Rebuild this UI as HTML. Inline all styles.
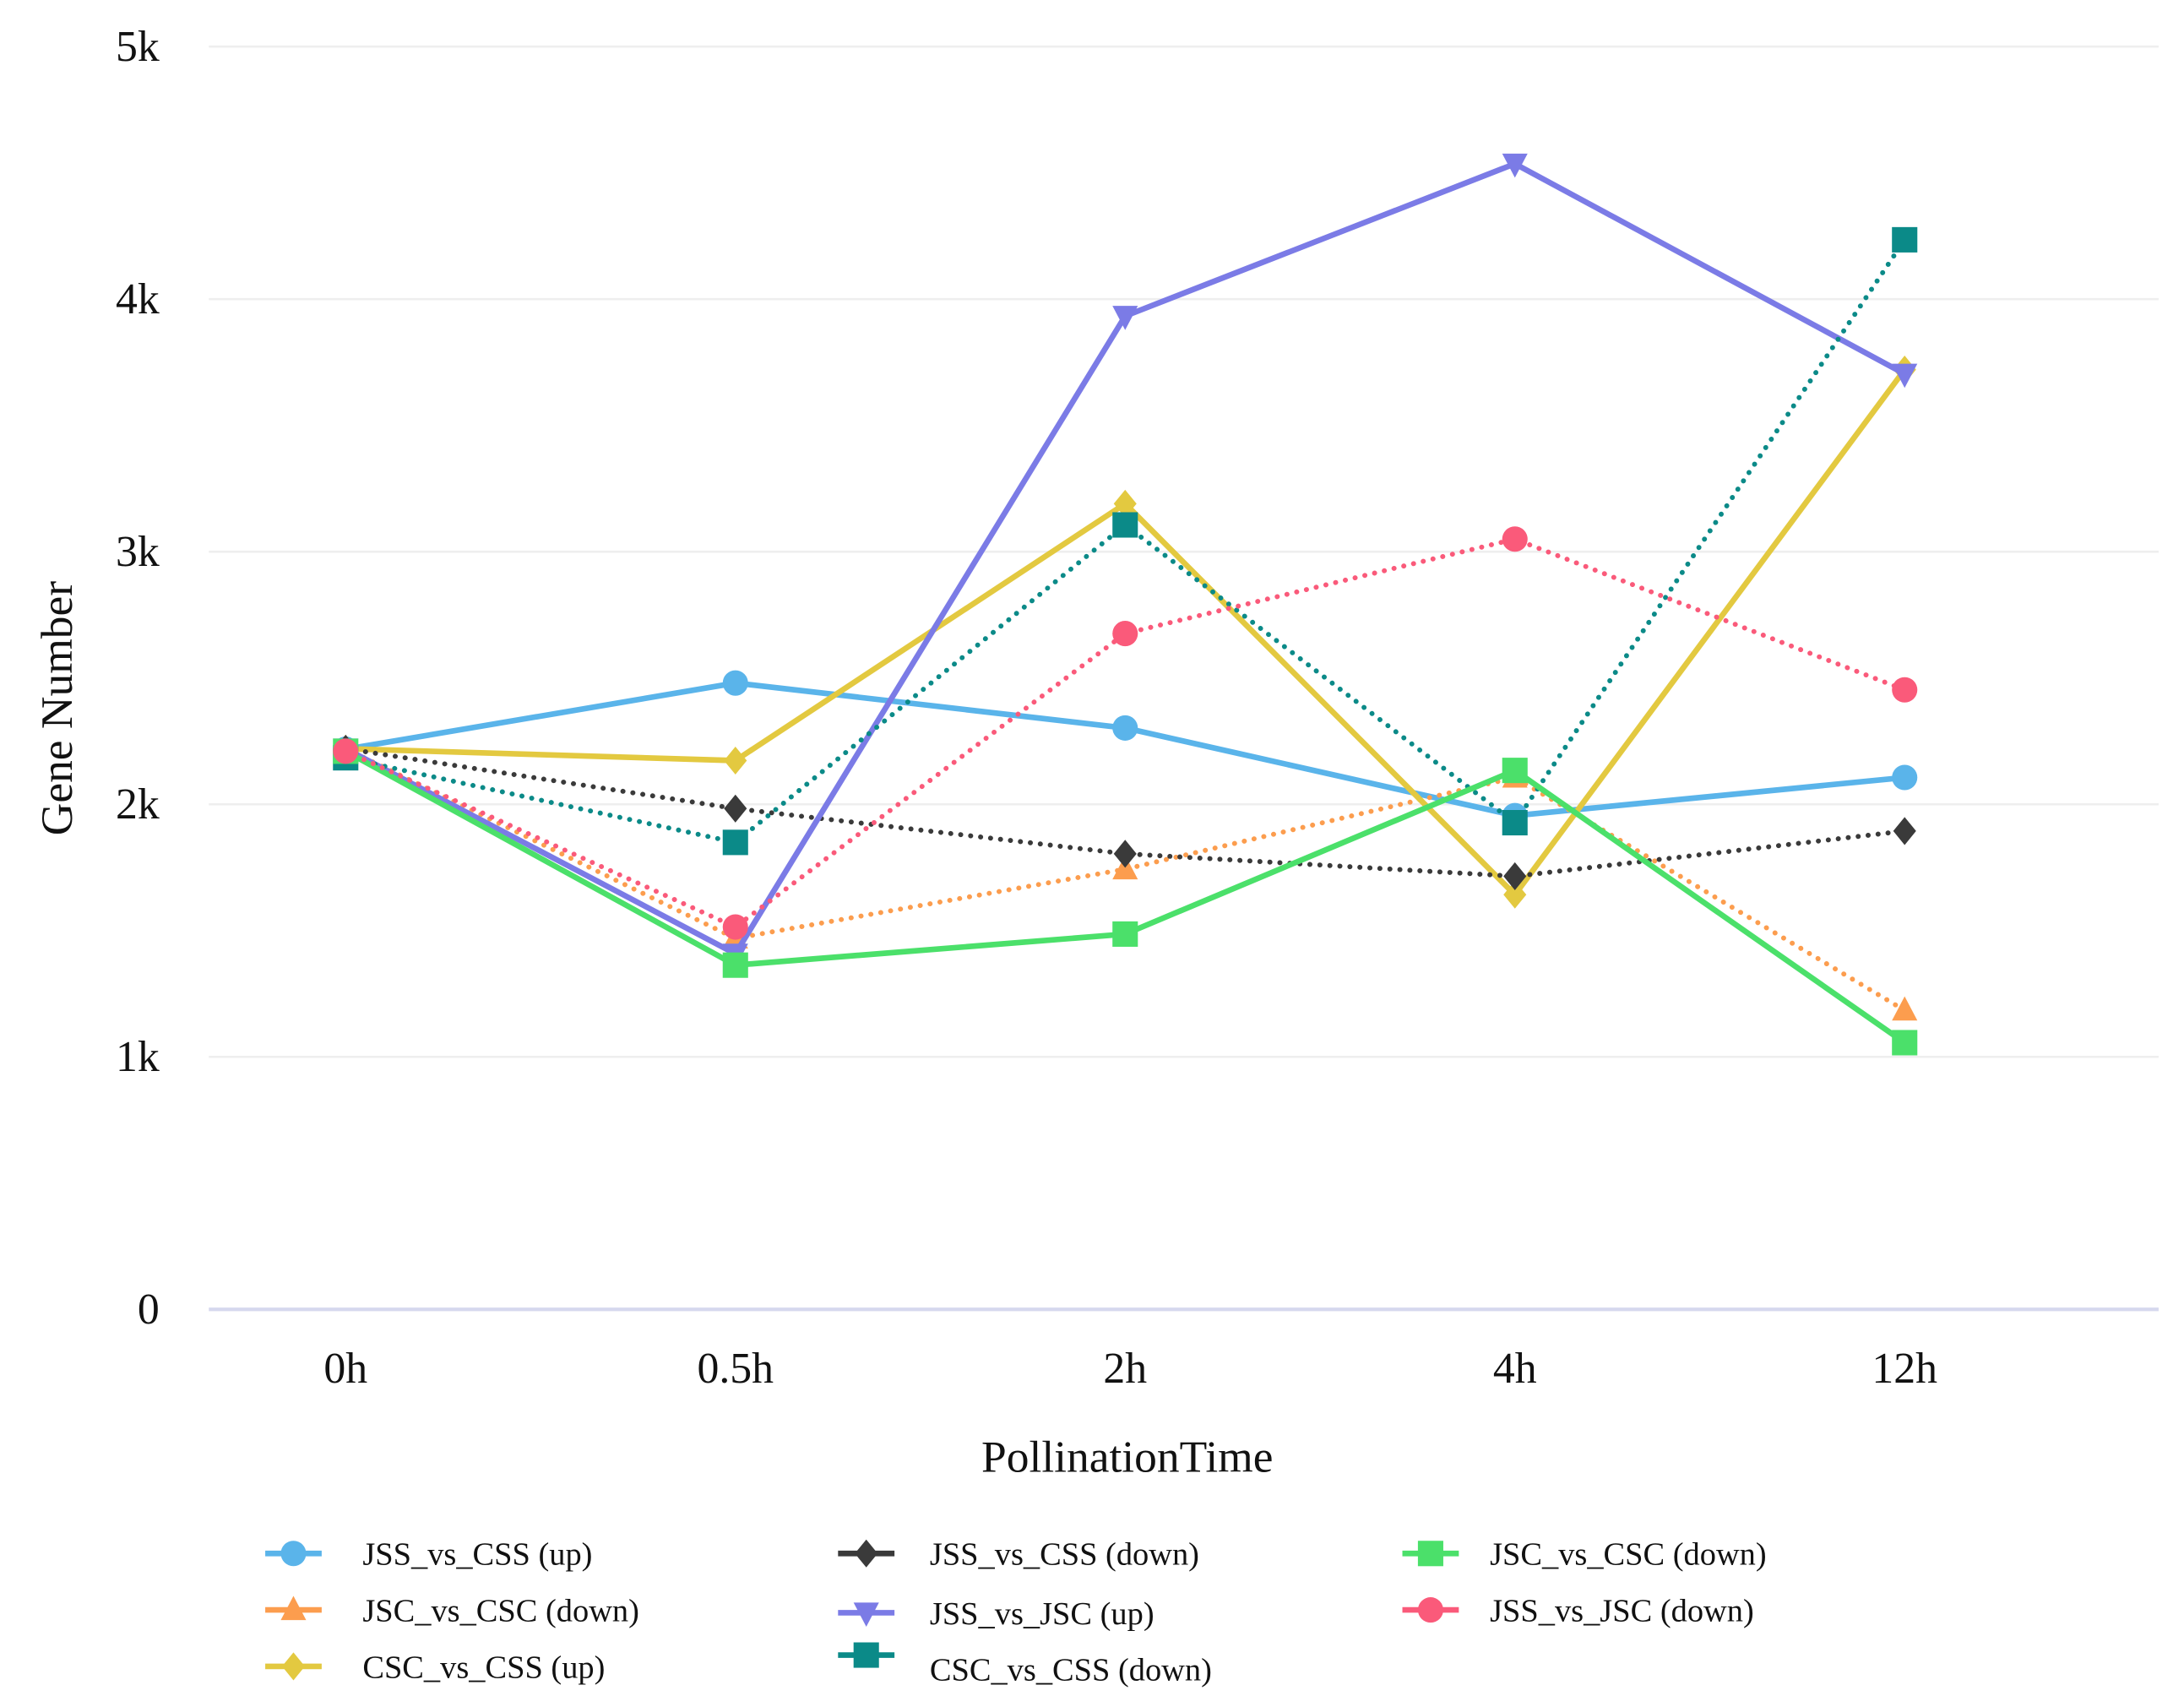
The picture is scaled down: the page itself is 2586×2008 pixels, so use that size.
<!DOCTYPE html>
<html><head><meta charset="utf-8"><style>
html,body{margin:0;padding:0;background:#fff;}
svg{display:block;font-family:"Liberation Serif",serif;}
</style></head><body>
<svg id="chart" width="2586" height="2008" viewBox="0 0 1548 1202" xmlns="http://www.w3.org/2000/svg">
<g id="grid"></g>
<g id="series"></g>
<g id="axes"></g>
<g id="legend"></g>
</svg>
<script>
const categories = ["0h","0.5h","2h","4h","12h"];
const yTicks = [0,1000,2000,3000,4000,5000];
const yTickLabels = ["0","1k","2k","3k","4k","5k"];
const seriesNames = ["JSS_vs_CSS (up)","JSC_vs_CSC (down)","CSC_vs_CSS (up)","JSS_vs_CSS (down)","JSS_vs_JSC (up)","CSC_vs_CSS (down)","JSC_vs_CSC (down)","JSS_vs_JSC (down)"];
const sJSSCSSup = [2218,2480,2302,1955,2106];
const sJSCCSCdownO = [2220,1469,1743,2106,1184];
const sCSCCSSup = [2220,2173,3190,1642,3721];
const sJSSCSSdown = [2220,1983,1804,1715,1894];
const sJSSJSCup = [2220,1408,3933,4536,3704];
const sCSCCSSdown = [2184,1849,3106,1927,4235];
const sJSCCSCdownG = [2210,1363,1486,2134,1056];
const sJSSJSCdown = [2210,1514,2676,3050,2453];

const NS="http://www.w3.org/2000/svg";
const styles=[
 {v:sJSSCSSup,c:"#5ab4ea",dash:false,m:"circle",name:"jss-css-up"},
 {v:sJSCCSCdownO,c:"#fc9d4e",dash:true,m:"tri",name:"jsc-csc-down-orange"},
 {v:sCSCCSSup,c:"#e3c940",dash:false,m:"diamond",name:"csc-css-up"},
 {v:sJSSCSSdown,c:"#3a3a3a",dash:true,m:"diamond",name:"jss-css-down"},
 {v:sJSSJSCup,c:"#7b7be6",dash:false,m:"tridown",name:"jss-jsc-up"},
 {v:sCSCCSSdown,c:"#0b8a88",dash:true,m:"square",name:"csc-css-down"},
 {v:sJSCCSCdownG,c:"#4be06a",dash:false,m:"square",name:"jsc-csc-down-green"},
 {v:sJSSJSCdown,c:"#fa5a7a",dash:true,m:"circle",name:"jss-jsc-down"}
];
function x(i){return 245+i*((1350-245)/4);}
function y(v){return 928-v*((928-33)/5000);}
function el(t,a,p){const e=document.createElementNS(NS,t);for(const k in a)e.setAttribute(k,a[k]);p.appendChild(e);return e;}
function marker(type,cx,cy,c,p,s){
 s=s||9;let e;
 if(type==="circle")e=el("circle",{cx:cx,cy:cy,r:s,fill:c},p);
 else if(type==="square")e=el("rect",{x:cx-s,y:cy-s,width:2*s,height:2*s,fill:c},p);
 else if(type==="diamond")e=el("polygon",{points:`${cx},${cy-s*1.1} ${cx+s*0.9},${cy} ${cx},${cy+s*1.1} ${cx-s*0.9},${cy}`,fill:c},p);
 else if(type==="tri")e=el("polygon",{points:`${cx},${cy-s*1.1} ${cx+s},${cy+s*0.8} ${cx-s},${cy+s*0.8}`,fill:c},p);
 else e=el("polygon",{points:`${cx},${cy+s*1.1} ${cx+s},${cy-s*0.8} ${cx-s},${cy-s*0.8}`,fill:c},p);
 return e;
}
const grid=document.getElementById("grid"),axes=document.getElementById("axes"),ser=document.getElementById("series"),leg=document.getElementById("legend");
yTicks.forEach((t,i)=>{
 const l=el("line",{x1:148,x2:1530,y1:y(t),y2:y(t),stroke:t===0?"#d6d8ee":"#eeeeee","stroke-width":t===0?2.5:1.5},grid);
 
 
 const tx=el("text",{x:113,y:y(t)+10,"text-anchor":"end","font-size":31,fill:"#111"},axes);
 tx.textContent=yTickLabels[i];
 
 
});
categories.forEach((c,i)=>{
 const tx=el("text",{x:x(i),y:980,"text-anchor":"middle","font-size":31,fill:"#111"},axes);
 tx.textContent=c;
 
 
});
const xt=el("text",{x:799,y:1043,"text-anchor":"middle","font-size":32,fill:"#111"},axes);
xt.textContent="PollinationTime";


const yt=el("text",{x:0,y:0,"text-anchor":"middle","font-size":32,fill:"#111",transform:"translate(51,502) rotate(-90)"},axes);
yt.textContent="Gene Number";



styles.forEach((s,k)=>{
 const g=el("g",{},ser);
 
 
 const pts=s.v.map((v,i)=>x(i)+","+y(v)).join(" ");
 const a={points:pts,fill:"none",stroke:s.c,"stroke-width":s.dash?3.5:4,"stroke-linejoin":"round"};
 if(s.dash){a["stroke-dasharray"]="0.1 7";a["stroke-linecap"]="round";}
 const pl=el("polyline",a,g);
 
 
 s.v.forEach((v,i)=>{
  const m=marker(s.m,x(i),y(v),s.c,g);
  
  
 });
});
const legPos=[[208,1101],[208,1141],[208,1181],[614,1101],[614,1143],[614,1173],[1014,1101],[1014,1141]];
const legTextY=[1101,1141,1181,1101,1143,1183,1101,1141];
styles.forEach((s,k)=>{
 const g=el("g",{},leg);
 
 
 const [mx,my]=legPos[k];
 el("line",{x1:mx-20,x2:mx+20,y1:my,y2:my,stroke:s.c,"stroke-width":4},g);
 marker(s.m,mx,my,s.c,g,9);
 const tx=el("text",{x:[257,257,257,659,659,659,1056,1056][k],y:legTextY[k]+8,"font-size":23,fill:"#111"},g);
 tx.textContent=seriesNames[k];
});
</script>
</body></html>
